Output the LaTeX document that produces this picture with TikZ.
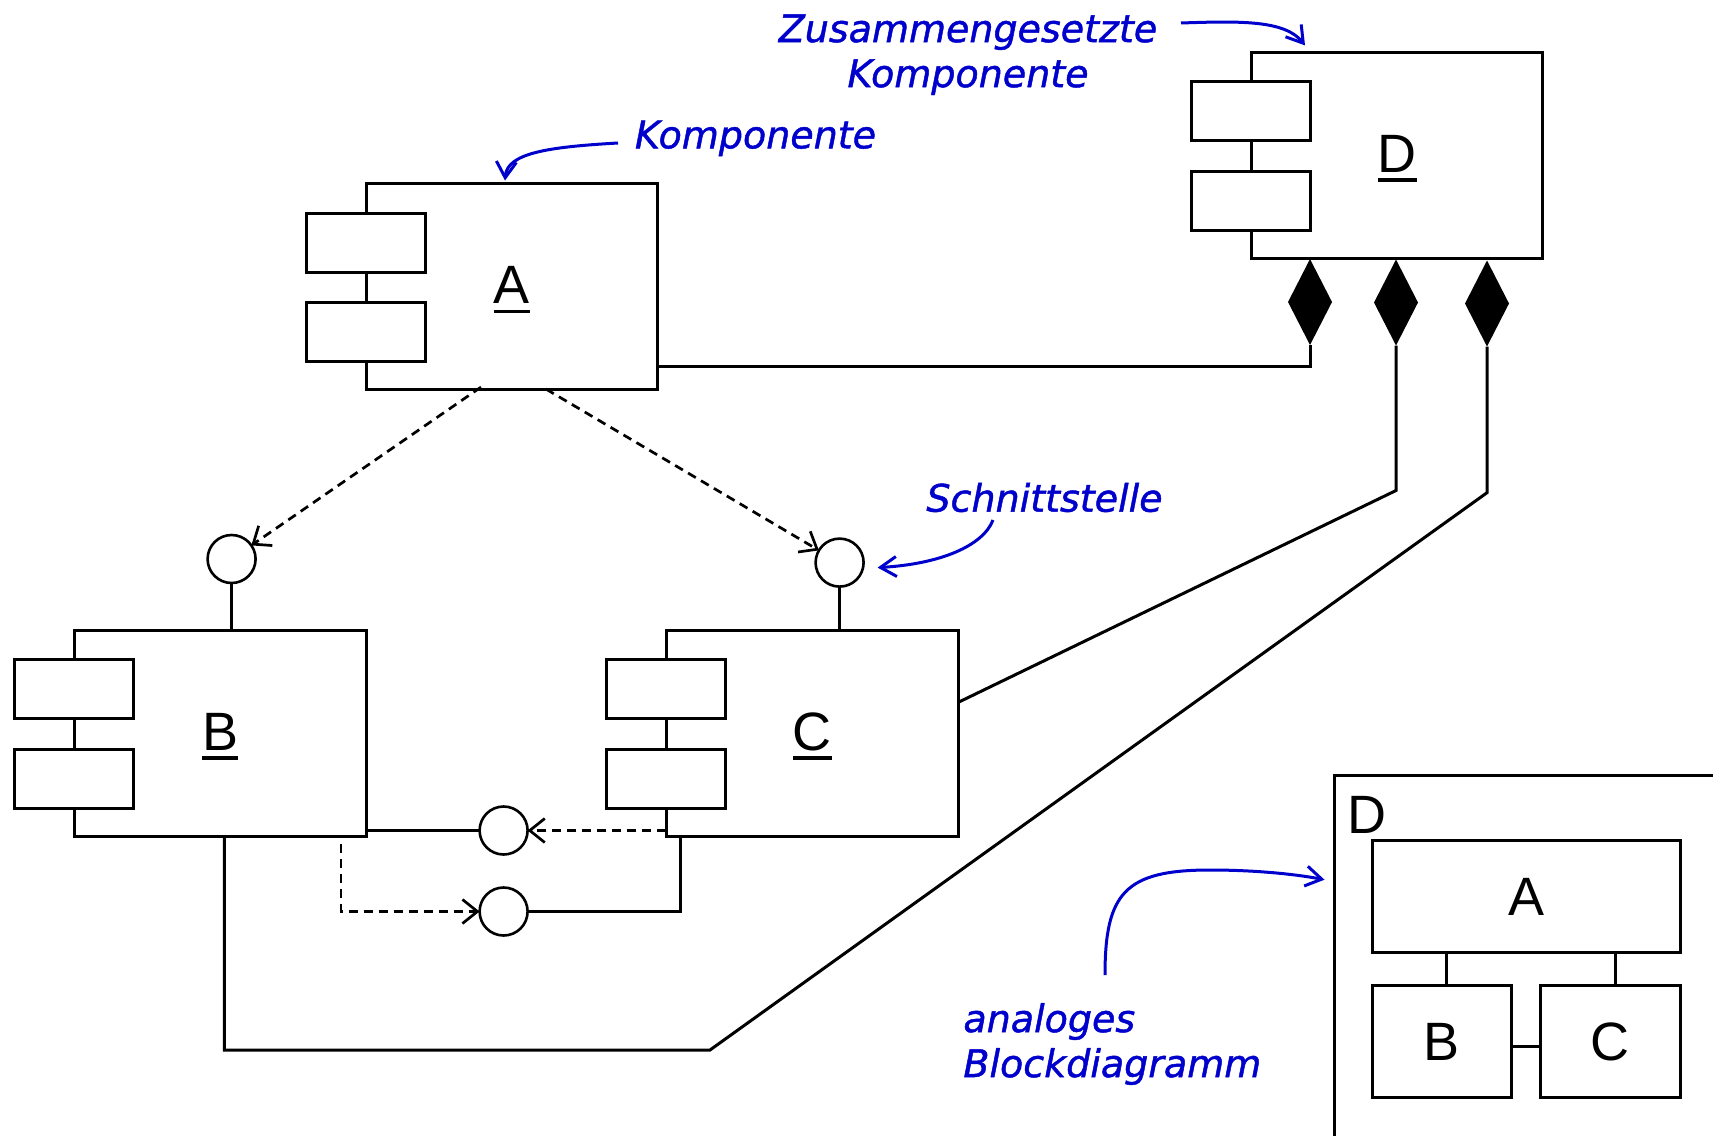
\documentclass[tikz,border=0pt]{standalone}
\usepackage{fontspec}
\usetikzlibrary{shapes.geometric,calc,arrows.meta}
\newfontfamily\labelfont{Liberation Sans}
\newfontfamily\notefont[FakeBold=1.2]{DejaVu Sans}
\definecolor{ink}{RGB}{0,0,205}
% underlined component name
\newcommand\uname[1]{\setbox0=\hbox{#1}\rlap{\vrule width\wd0 height -3pt depth 4.7pt}\box0}
% UML component: name, x, y of the north-west corner, label
\newcommand\umlcomp[4]{%
  \node[mainbox, anchor=north west] (#1) at (#2,#3) {};
  \node[portbox] (#1p1) at ($(#1.north west)+(0,59)$) {};
  \node[portbox] (#1p2) at ($(#1.north west)+(0,148.5)$) {};
  \node[anchor=base, font=\labelfont\fontsize{27}{30}\selectfont] (#1lbl) at ($(#1.north west)+(146,120)$) {\uname{#4}};
}
\tikzset{
  mainbox/.style={draw, line width=1.5pt, minimum width=145.85pt, minimum height=102.8pt, inner sep=0, outer sep=0},
  portbox/.style={draw, fill=white, line width=1.5pt, minimum width=59.5pt, minimum height=29.5pt, inner sep=0, outer sep=0},
  iface/.style={draw, circle, fill=white, line width=1.3pt, minimum size=24pt, inner sep=0, outer sep=0},
  agg/.style={diamond, fill=black, minimum width=22pt, minimum height=43pt, inner sep=0, outer sep=0},
  conn/.style={line width=1.5pt},
  dep/.style={line width=1.35pt, dash pattern=on 4.5pt off 3pt, -{Straight Barb[length=7.5pt,width=12pt]}},
  blk/.style={draw, line width=1.5pt, inner sep=0, outer sep=0, font=\labelfont\fontsize{27}{30}\selectfont},
  note/.style={ink, line width=1.5pt, -{Straight Barb[length=8pt,width=10pt]}},
  notetext/.style={ink, inner sep=0, font=\notefont\itshape\fontsize{19}{22.5}\selectfont},
}
\begin{document}
\begin{tikzpicture}[x=0.5pt,y=-0.5pt]
\useasboundingbox[fill=white] (0,0) rectangle (1713,1135);

% components
\umlcomp{A}{366}{183.5}{A}
\umlcomp{B}{74.3}{630.4}{B}
\umlcomp{C}{666.4}{630.4}{C}
\umlcomp{D}{1251}{52.4}{D}

% interfaces
\node[iface] (iB) at (231.6,559) {};
\node[iface] (iC) at (839.6,562.6) {};
\node[iface] (iL1) at (503.6,830.5) {};
\node[iface] (iL2) at (503.6,911.5) {};

\draw[conn] (iB.south) -- (iB.south |- B.north);
\draw[conn] (iC.south) -- (iC.south |- C.north);
\draw[conn] (iL1.west -| B.east) -- (iL1.west);
\draw[dep] (iL1.east -| C.west) -- (iL1.east);
\draw[conn] (iL2.east) -| ($(C.south west)+(14.2,0)$);
\draw[dep] ($(B.south east)+(-25,8)$) |- (iL2.west);

% usage dependencies of A
\draw[dep] ($(A.south west)+(115,-2)$) -- (iB);
\draw[dep] ($(A.south west)+(180,0)$) -- (iC);

% composition
\node[agg] (d1) at (1310,302) {};
\node[agg] (d2) at (1396,302.5) {};
\node[agg] (d3) at (1487,303.5) {};
\coordinate (k2) at (1396,490.5);
\coordinate (k3) at (1487,492.7);
\coordinate (k4) at (710,1050);
\draw[conn] ($(A.north east)+(0,183)$) -| (d1.south);
\draw[conn] (d2.south) -- (k2) -- ($(C.north east)+(0,72)$);
\draw[conn] (d3.south) -- (k3) -- (k4) -| ($(B.south west)+(150,0)$);

% block diagram
\coordinate (fr1) at (1334.5,1145);
\coordinate (fr2) at (1725,775.7);
\draw[conn] (fr1) |- (fr2);
\node[anchor=base west, inner sep=0, font=\labelfont\fontsize{27}{30}\selectfont] (bD) at (1347.5,833.3) {D};
\node[blk, minimum width=154pt, minimum height=56.2pt] (bA) at (1526,896.5) {A};
\node[blk, minimum width=69.85pt, minimum height=56.2pt] (bB) at (1441.9,1041.5) {B};
\node[blk, minimum width=70pt, minimum height=56.2pt] (bC) at (1610,1041.5) {C};
\draw[conn] ($(bB.north)+(5,0)$) coordinate (t1) -- (t1 |- bA.south);
\draw[conn] ($(bC.north)+(5,0)$) coordinate (t2) -- (t2 |- bA.south);
\draw[conn] ($(bB.east)+(0,4.5)$) coordinate (t3) -- (t3 -| bC.west);

% notes
\node[notetext, anchor=north, align=center] (nZ) at (968,14) {Zusammengesetzte\\Komponente};
\node[notetext, anchor=base] (nK) at (755.5,148.3) {Komponente};
\node[notetext, anchor=base] (nS) at (1044.5,511.7) {Schnittstelle};
\node[notetext, anchor=north west, align=left] (nB) at (963,1002.8) {analoges\\Blockdiagramm};

\draw[note] (1181,23) .. controls (1240,21) and (1285,20) .. ($(D.north west)+(54,-7)$);
\draw[note] (618,143) .. controls (548,147) and (507,153) .. ($(A.north west)+(139,-3)$);
\draw[note] (993,520) .. controls (983,546) and (940,564) .. ($(iC.east)+(14,5)$);
\draw[note] (1105,975) .. controls (1105,893) and (1125,870) .. (1210,870) .. controls (1260,870) and (1300,875) .. ($(fr1|-fr2)+(-10,104)$);
\end{tikzpicture}
\end{document}
